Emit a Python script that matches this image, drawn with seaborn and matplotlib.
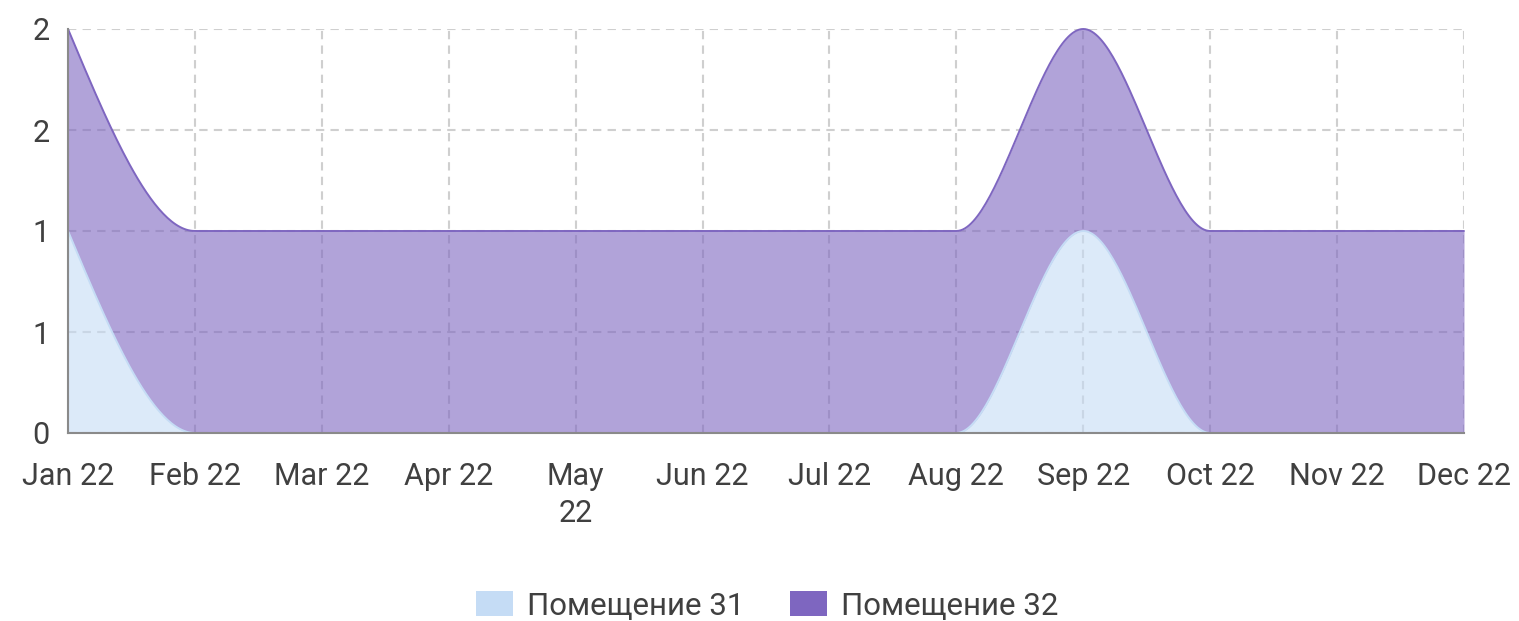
import numpy as np
import pandas as pd
import matplotlib
matplotlib.use('Agg')
import matplotlib.pyplot as plt
from matplotlib.patches import Patch
from matplotlib.ticker import FixedLocator, FixedFormatter
import seaborn as sns

# ── data ────────────────────────────────────────────────────────────
months = ['Jan 22', 'Feb 22', 'Mar 22', 'Apr 22', 'May\n22', 'Jun 22',
          'Jul 22', 'Aug 22', 'Sep 22', 'Oct 22', 'Nov 22', 'Dec 22']
room31 = [1, 0, 0, 0, 0, 0, 0, 0, 1, 0, 0, 0]
room32 = [1, 1, 1, 1, 1, 1, 1, 1, 1, 1, 1, 1]
series_names = ['Помещение 31', 'Помещение 32']
y_ticks = [0, 0.5, 1, 1.5, 2]
y_labels = ['0', '1', '1', '2', '2']

colors = ['#c5dcf5', '#7e66c0']


def monotone_x(x, y, n=60):
    """d3 curveMonotoneX style smoothing, just for drawing the outline."""
    x = np.asarray(x, float)
    y = np.asarray(y, float)
    h = np.diff(x)
    s = np.diff(y) / h
    t = np.zeros(len(x))
    for i in range(1, len(x) - 1):
        p = (s[i - 1] * h[i] + s[i] * h[i - 1]) / (h[i - 1] + h[i])
        t[i] = (np.sign(s[i - 1]) + np.sign(s[i])) * min(
            abs(s[i - 1]), abs(s[i]), 0.5 * abs(p))
    t[0] = (3 * s[0] - t[1]) / 2
    t[-1] = (3 * s[-1] - t[-2]) / 2
    xs, ys = [], []
    for i in range(len(x) - 1):
        u = np.linspace(0, 1, n, endpoint=(i == len(x) - 2))
        h00 = 2 * u**3 - 3 * u**2 + 1
        h10 = u**3 - 2 * u**2 + u
        h01 = -2 * u**3 + 3 * u**2
        h11 = u**3 - u**2
        xs.append(x[i] + u * h[i])
        ys.append(h00 * y[i] + h10 * h[i] * t[i] + h01 * y[i + 1]
                  + h11 * h[i] * t[i + 1])
    return np.concatenate(xs), np.concatenate(ys)


idx = np.arange(len(months))
lower = np.array(room31, float)
upper = lower + np.array(room32, float)

xs, low_s = monotone_x(idx, lower)
_, up_s = monotone_x(idx, upper)
curves = pd.DataFrame({'x': np.concatenate([xs, xs]),
                       'y': np.concatenate([low_s, up_s]),
                       'series': [series_names[0]] * len(xs)
                                 + [series_names[1]] * len(xs)})

# ── plot ────────────────────────────────────────────────────────────
sns.set_style('white')
plt.rcParams['font.family'] = ['Roboto', 'DejaVu Sans']

fig = plt.figure(figsize=(15.19, 6.21), dpi=100)
ax = fig.add_axes([68 / 1519, 1 - 433 / 621, (1464 - 68) / 1519, (433 - 29) / 621])

ax.fill_between(xs, 0, low_s, color=colors[0], alpha=0.6, linewidth=0, zorder=2)
ax.fill_between(xs, low_s, up_s, color=colors[1], alpha=0.6, linewidth=0, zorder=2)
sns.lineplot(data=curves, x='x', y='y', hue='series', palette=colors,
             linewidth=1.4, ax=ax, legend=False, sort=False,
             estimator=None, zorder=3)
for ln in ax.lines:
    ln.set_clip_on(False)

ax.set_xlim(0, len(months) - 1)
ax.set_ylim(0, 2)
ax.xaxis.set_major_locator(FixedLocator(idx))
ax.xaxis.set_major_formatter(FixedFormatter(months))
ax.yaxis.set_major_locator(FixedLocator(y_ticks))
ax.yaxis.set_major_formatter(FixedFormatter(y_labels))
ax.set_xlabel('')
ax.set_ylabel('')

ax.set_axisbelow(True)
ax.grid(True, linestyle=(0, (4, 3)), color='#cfcfcf', linewidth=1.5)
for side in ['top', 'right']:
    ax.spines[side].set_visible(False)
for side in ['left', 'bottom']:
    ax.spines[side].set_color('#8a8a8a')
    ax.spines[side].set_linewidth(1.5)
    ax.spines[side].set_zorder(4)
ax.tick_params(axis='both', colors='#8a8a8a', width=1.8, length=9,
               labelcolor='#404040', labelsize=22)
ax.tick_params(axis='y', pad=4)
ax.tick_params(axis='x', pad=12)
for lbl in ax.get_xticklabels():
    lbl.set_linespacing(1.35)

handles = [Patch(facecolor=c, edgecolor='none') for c in colors]
fig.legend(handles, series_names, loc='center', ncol=2, frameon=False,
           bbox_to_anchor=(0.505, 1 - 606 / 621), fontsize=22.5,
           handlelength=1.2, handleheight=0.85, handletextpad=0.45,
           columnspacing=1.45, labelcolor='#404040')

plt.savefig('out.png', dpi=100)
plt.close()
